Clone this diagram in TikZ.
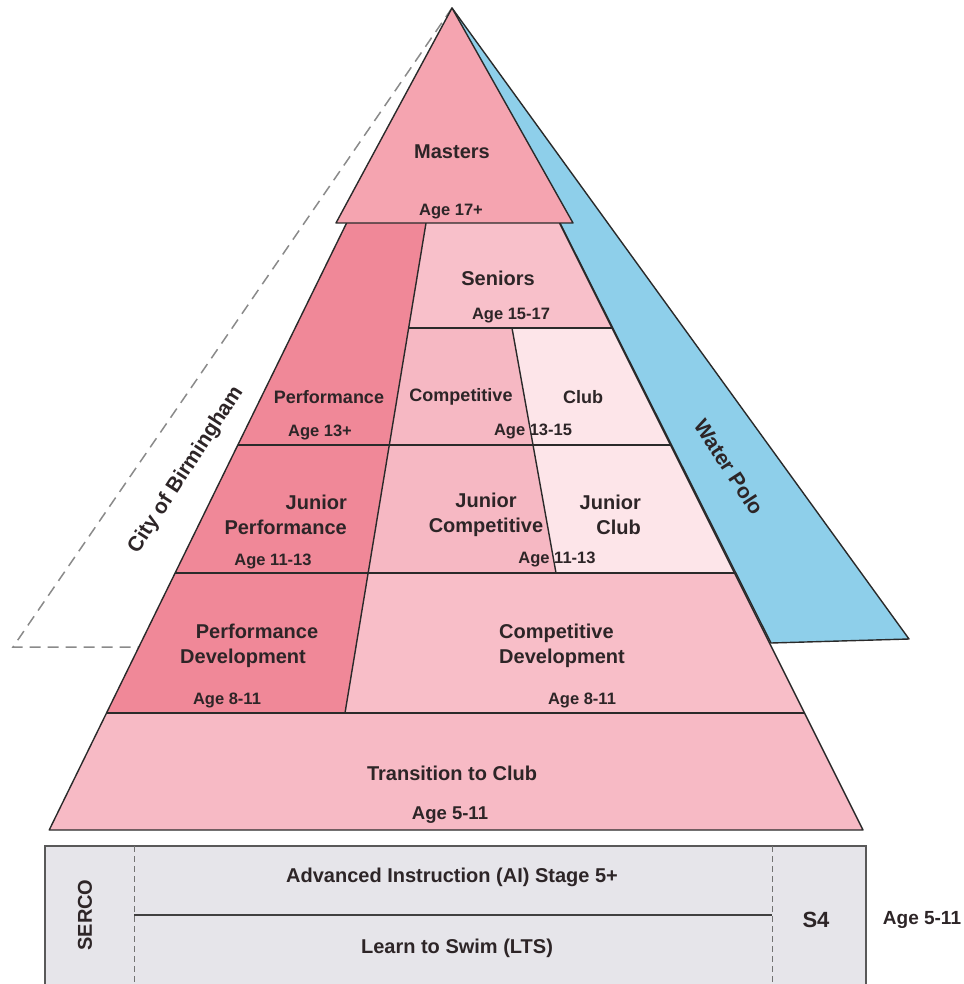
\documentclass[tikz,border=0pt]{standalone}
\usepackage{fontspec}
\setmainfont{Liberation Sans}
\definecolor{txt}{HTML}{2D2527}
\definecolor{lin}{HTML}{2A2A2A}
\definecolor{cmast}{HTML}{F5A4B0}
\definecolor{cperf}{HTML}{F08898}
\definecolor{csen}{HTML}{F8C0CA}
\definecolor{ccomp}{HTML}{F6B8C3}
\definecolor{cclub}{HTML}{FDE5E9}
\definecolor{cdev}{HTML}{F8BEC8}
\definecolor{ctrans}{HTML}{F7BAC5}
\definecolor{cblue}{HTML}{8ECFEA}
\definecolor{cgray}{HTML}{E6E5EA}
\definecolor{cdash}{HTML}{8A8A8A}
\tikzset{
  lab/.style={font=\fontsize{20}{25}\selectfont\bfseries, text=txt, inner sep=0pt, align=center},
  blab/.style={font=\fontsize{18}{22}\selectfont\bfseries, text=txt, inner sep=0pt},
  agelab/.style={font=\fontsize{16.5}{20}\selectfont\bfseries, text=txt, inner sep=0pt},
  edgeline/.style={draw=lin, line width=1.4pt, line join=round},
  cob/.style={draw=cdash, line width=1.5pt, dash pattern=on 11pt off 7pt},
}
\begin{document}
\begin{tikzpicture}[x=1pt,y=-1pt]
\useasboundingbox (0,0) rectangle (963,984);
% key coordinates
\coordinate (A) at (452,8);
\coordinate (L223) at (346.6,223);
\coordinate (L328) at (295.2,328);
\coordinate (L445) at (237.9,445);
\coordinate (L573) at (175.1,573);
\coordinate (L713) at (106.5,713);
\coordinate (L830) at (49.2,830);
\coordinate (R223) at (559.5,223);
\coordinate (R328) at (612,328);
\coordinate (R445) at (670.5,445);
\coordinate (R573) at (734.5,573);
\coordinate (R713) at (804.5,713);
\coordinate (R830) at (863,830);
\coordinate (D223) at (426,223);
\coordinate (D328) at (408.6,328);
\coordinate (D445) at (389.3,445);
\coordinate (D573) at (368.1,573);
\coordinate (D713) at (345,713);
\coordinate (E328) at (512,328);
\coordinate (E445) at (533,445);
\coordinate (E573) at (556,573);
\coordinate (ML) at (336,223);
\coordinate (MR) at (573,223);
\coordinate (W1) at (909,639);
\coordinate (W2) at (771,643);
\coordinate (C1) at (13,647);
\coordinate (C2) at (138.9,647);
% City of Birmingham dashed outline
\draw[cob] (A) -- (C1) -- (C2);
% Water Polo
\filldraw[fill=cblue, edgeline] (A) -- (W1) -- (W2) -- cycle;
% pyramid regions
\fill[cperf] (L223) -- (D223) -- (D713) -- (L713) -- cycle;
\fill[csen] (D223) -- (R223) -- (R328) -- (D328) -- cycle;
\fill[ccomp] (D328) -- (E328) -- (E573) -- (D573) -- cycle;
\fill[cclub] (E328) -- (R328) -- (R573) -- (E573) -- cycle;
\fill[cdev] (D573) -- (R573) -- (R713) -- (D713) -- cycle;
\fill[ctrans] (L713) -- (R713) -- (R830) -- (L830) -- cycle;
% lines
\draw[edgeline] (L223) -- (L830) -- (R830) -- (R223);
\draw[edgeline] (D328) -- (R328);
\draw[edgeline] (L445) -- (R445);
\draw[edgeline] (L573) -- (R573);
\draw[edgeline] (L713) -- (R713);
\draw[edgeline] (D223) -- (D713);
\draw[edgeline] (E328) -- (E573);
% Masters triangle
\filldraw[fill=cmast, edgeline] (A) -- (MR) -- (ML) -- cycle;
% bottom box
\coordinate (BTL) at (45,846);
\coordinate (BBR) at (866,1000);
\filldraw[fill=cgray, draw=black!65, line width=1.4pt] (BTL) rectangle (BBR);
\coordinate (V1t) at (134,846);
\coordinate (V1b) at (134,1000);
\coordinate (V2t) at (772,846);
\coordinate (V2b) at (772,1000);
\draw[black!55, line width=0.8pt, dash pattern=on 6pt off 4pt] (V1t) -- (V1b);
\draw[black!55, line width=0.8pt, dash pattern=on 6pt off 4pt] (V2t) -- (V2b);
\coordinate (H1) at (134,915);
\coordinate (H2) at (772,915);
\draw[black!75, line width=1.4pt] (H1) -- (H2);
% labels
\node[lab] (masters) at (452,152) {Masters};
\node[agelab] (a17) at (451,212) {Age 17+};
\node[lab] (seniors) at (498,278) {Seniors};
\node[agelab] (a1517) at (511,316) {Age 15-17};
\node[blab] (perf) at (329,397) {Performance};
\node[blab] (comp) at (461,397) {Competitive};
\node[blab] (club) at (583,397) {Club};
\node[agelab] (a13) at (320,432) {Age 13+};
\node[agelab] (a1315) at (533,431) {Age 13-15};
\node[lab, align=right, anchor=east] (jperf) at (347,515) {Junior\\Performance};
\node[lab] (jcomp) at (486,515) {Junior\\Competitive};
\node[lab, align=right, anchor=east] (jclub) at (641,515) {Junior\\Club};
\node[agelab] (a1113a) at (273,561) {Age 11-13};
\node[agelab] (a1113b) at (557,559) {Age 11-13};
\node[lab] (pdev) at (243,646) {\hspace*{28pt}Performance\\Development};
\node[lab, align=left, anchor=west] (cdevl) at (499,646) {Competitive\\Development};
\node[agelab] (a811a) at (227,700) {Age 8-11};
\node[agelab] (a811b) at (582,700) {Age 8-11};
\node[lab] (trans) at (452,773) {Transition to Club};
\node[agelab, font=\fontsize{18.5}{22}\selectfont\bfseries] (a511) at (450,815) {Age 5-11};
\node[lab] (ai) at (452,877) {Advanced Instruction (AI) Stage 5+};
\node[lab] (lts) at (457,948) {Learn to Swim (LTS)};
\node[lab, rotate=90] (serco) at (85,915) {SERCO};
\node[lab, font=\fontsize{22}{26}\selectfont\bfseries] (s4) at (816,920) {S4};
\node[agelab, font=\fontsize{19}{23}\selectfont\bfseries] (a511r) at (922,920) {Age 5-11};
\node[lab, rotate=57, font=\fontsize{21}{25}\selectfont\bfseries] (cob) at (186,470) {City of Birmingham};
\node[lab, rotate=-57, font=\fontsize{21}{25}\selectfont\bfseries] (wp) at (729,467) {Water Polo};
\end{tikzpicture}
\end{document}
